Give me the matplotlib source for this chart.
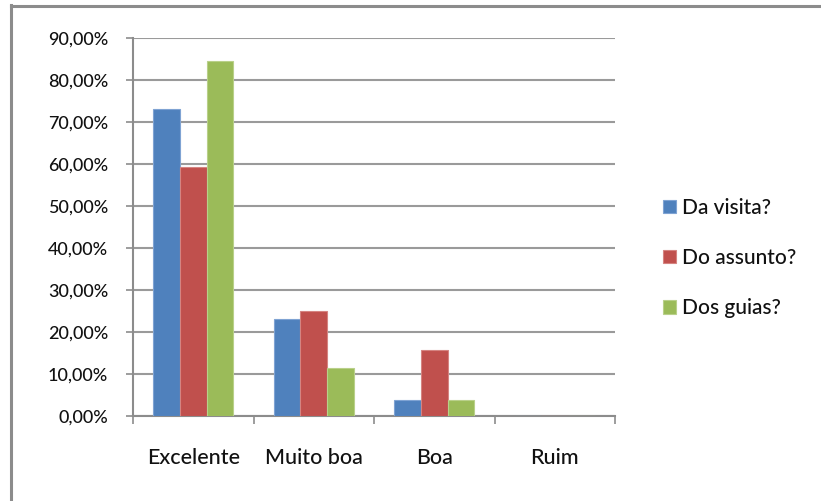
import matplotlib
matplotlib.use("Agg")
import matplotlib.pyplot as plt
from matplotlib.lines import Line2D
from matplotlib.ticker import FuncFormatter
import numpy as np

categories = ["Excelente", "Muito boa", "Boa", "Ruim"]
series_names = ["Da visita?", "Do assunto?", "Dos guias?"]
da_visita = [73.08, 23.08, 3.85, 0.0]
do_assunto = [59.38, 25.00, 15.63, 0.0]
dos_guias = [84.62, 11.54, 3.85, 0.0]
y_ticks = [0, 10, 20, 30, 40, 50, 60, 70, 80, 90]
colors = ["#4F81BD", "#C0504D", "#9BBB59"]
edge_colors = ["#7FA3D3", "#D58481", "#B9D08A"]

plt.rcParams['font.family'] = ['Lato', 'DejaVu Sans']
plt.rcParams['font.weight'] = 'medium'
plt.rcParams['text.color'] = '#111111'
plt.rcParams['xtick.color'] = '#111111'
plt.rcParams['ytick.color'] = '#111111'

fig = plt.figure(figsize=(8.21, 5.01), dpi=100)
ax = fig.add_axes([133/821, 1 - 416/501, (615 - 133)/821, (416 - 38)/501])

x = np.arange(len(categories))
w = 0.222
for i, vals in enumerate([da_visita, do_assunto, dos_guias]):
    ax.bar(x + (i - 1) * w, vals, width=w, color=colors[i], edgecolor=edge_colors[i],
           linewidth=0.8, label=series_names[i], zorder=3)

ax.set_xlim(-0.5, len(categories) - 0.5)
ax.set_ylim(0, 90)
ax.set_yticks(y_ticks)
ax.yaxis.set_major_formatter(FuncFormatter(lambda v, p: f"{v:.2f}%".replace(".", ",")))
ax.grid(axis='y', color='#9a9a9a', linewidth=1.5, zorder=0)

ax.set_xticks(np.arange(-0.5, len(categories), 1.0))
ax.set_xticklabels([])
ax.set_xticks(x, minor=True)
ax.set_xticklabels(categories, minor=True, fontsize=15.5)
ax.tick_params(axis='x', which='minor', length=0, pad=23)
ax.tick_params(axis='x', which='major', length=6, width=1.2, color='#8c8c8c', direction='out')
ax.tick_params(axis='y', length=5, width=1.2, color='#8c8c8c', direction='out', pad=13, labelsize=13)

for s in ['top', 'right']:
    ax.spines[s].set_visible(False)
ax.spines['left'].set_color('#8c8c8c')
ax.spines['left'].set_linewidth(1.5)
ax.spines['bottom'].set_color('#8c8c8c')
ax.spines['bottom'].set_linewidth(1.5)

leg = ax.legend(loc='upper left', bbox_to_anchor=(663/821, 1 - 198/501),
                bbox_transform=fig.transFigure, frameon=False, fontsize=15,
                handlelength=0.6, handleheight=0.6, handletextpad=0.3,
                labelspacing=1.45, borderaxespad=0, borderpad=0)

# outer chart border
fig.add_artist(Line2D([10.5/821, 10.5/821], [0, 1 - 5/501], transform=fig.transFigure,
                      color='#8c8c8c', linewidth=2.2))
fig.add_artist(Line2D([10.5/821, 1], [1 - 5.5/501, 1 - 5.5/501], transform=fig.transFigure,
                      color='#8c8c8c', linewidth=2.2))

fig.savefig("out.png", dpi=100)
